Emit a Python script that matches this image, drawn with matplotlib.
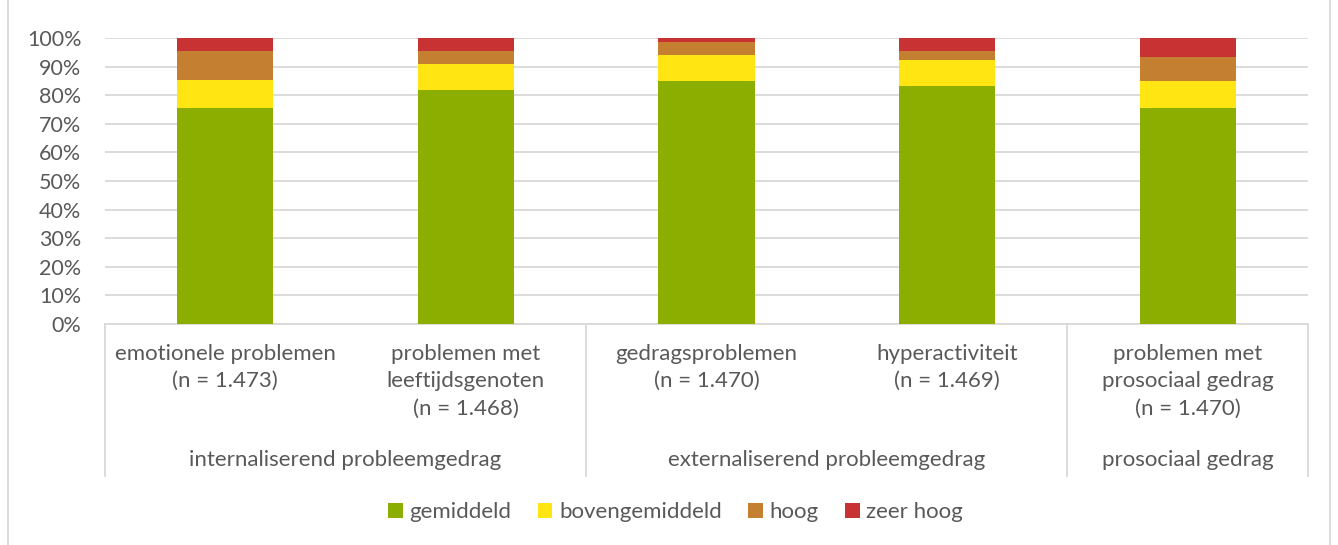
import matplotlib.pyplot as plt
import matplotlib.transforms as mtransforms
from matplotlib.ticker import PercentFormatter
from matplotlib.lines import Line2D

# waarden (procenten)
categorieen = ["emotionele problemen\n(n = 1.473)",
               "problemen met\nleeftijdsgenoten\n(n = 1.468)",
               "gedragsproblemen\n(n = 1.470)",
               "hyperactiviteit\n(n = 1.469)",
               "problemen met\nprosociaal gedrag\n(n = 1.470)"]
groepen = ["internaliserend probleemgedrag", "externaliserend probleemgedrag", "prosociaal gedrag"]
groep_grenzen = [0, 2, 4, 5]
gemiddeld = [75.5, 81.8, 85.1, 83.3, 75.5]
bovengemiddeld = [9.8, 9.0, 9.1, 9.1, 9.5]
hoog = [10.2, 4.7, 4.5, 3.2, 8.4]
zeer_hoog = [4.5, 4.5, 1.3, 4.4, 6.6]

reeksen = [("gemiddeld", gemiddeld, "#8cae00"),
           ("bovengemiddeld", bovengemiddeld, "#ffe512"),
           ("hoog", hoog, "#c47f30"),
           ("zeer hoog", zeer_hoog, "#c83232")]

tekstkleur = "#595959"
lijnkleur = "#d9d9d9"
plt.rcParams['font.family'] = ['Lato', 'DejaVu Sans']

fig = plt.figure(figsize=(13.38, 5.45), dpi=100)
ax = fig.add_axes([105/1338, 1-324/545, (1308-105)/1338, (324-38)/545])

x = list(range(len(categorieen)))
onder = [0]*len(x)
for naam, waarden, kleur in reeksen:
    ax.bar(x, waarden, 0.4, bottom=onder, color=kleur, label=naam, zorder=3)
    onder = [o + w for o, w in zip(onder, waarden)]

ax.set_xlim(-0.5, len(x) - 0.5)
ax.set_ylim(0, 100)
ax.set_yticks(range(0, 101, 10))
ax.yaxis.set_major_formatter(PercentFormatter(decimals=0))
ax.grid(axis='y', color=lijnkleur, linewidth=1.3, zorder=0)
for s in ['top', 'right', 'left']:
    ax.spines[s].set_visible(False)
ax.spines['bottom'].set_color(lijnkleur)
ax.spines['bottom'].set_linewidth(1.3)
ax.tick_params(axis='y', length=0, labelsize=15.5, labelcolor=tekstkleur, pad=17)
ax.set_xticks([])

# categorie- en groepslabels onder de as
trans = mtransforms.blended_transform_factory(ax.transData, fig.transFigure)
for i, lab in enumerate(categorieen):
    ax.text(i, 1 - 344/545, lab, transform=trans, ha='center', va='top',
            fontsize=16, color=tekstkleur, linespacing=1.45)

for g, naam in enumerate(groepen):
    midden = (groep_grenzen[g] + groep_grenzen[g+1] - 1) / 2
    ax.text(midden, 1 - 460/545, naam, transform=trans, ha='center', va='center',
            fontsize=16, color=tekstkleur)
for grens in groep_grenzen:
    ax.add_line(Line2D([grens - 0.5, grens - 0.5], [1 - 324/545, 1 - 476/545],
                       transform=trans, color=lijnkleur, linewidth=1.3, clip_on=False))

fig.legend(loc='center', bbox_to_anchor=(0.505, 1 - 512/545), ncol=4, frameon=False,
           fontsize=16, labelcolor=tekstkleur, handlelength=0.65, handleheight=0.65,
           handletextpad=0.3, columnspacing=1.2)

# kader rond de grafiek
fig.add_artist(Line2D([8/1338, 8/1338], [0, 1], color=lijnkleur, linewidth=1.3))
fig.add_artist(Line2D([1330/1338, 1330/1338], [0, 1], color=lijnkleur, linewidth=1.3))

fig.savefig("out.png", dpi=100)
